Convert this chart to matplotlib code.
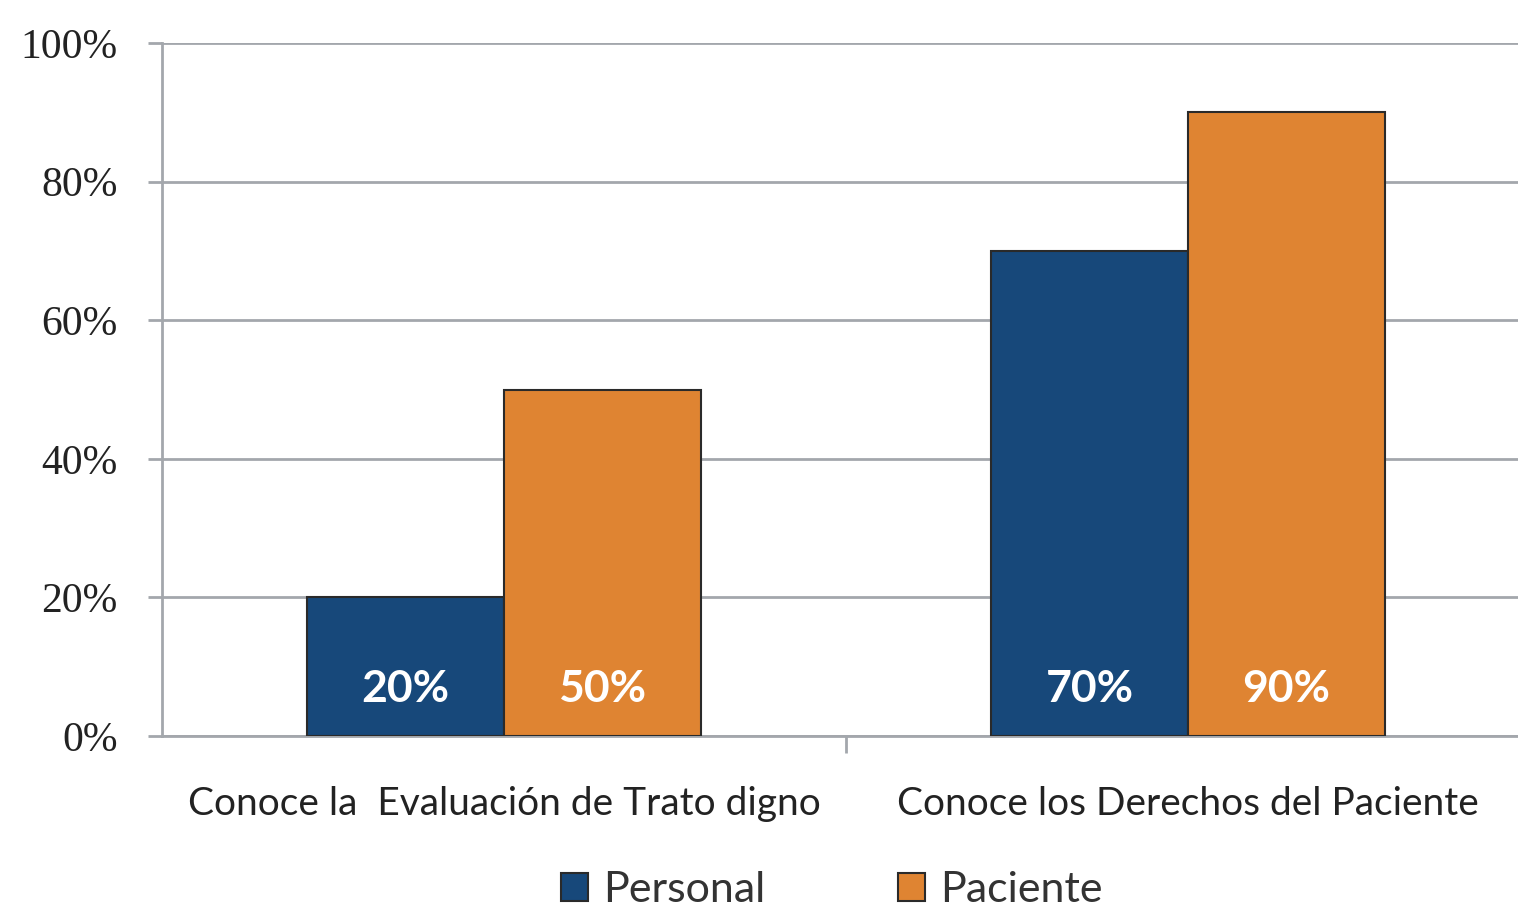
import numpy as np
import matplotlib.pyplot as plt

categories = ["Conoce la  Evaluación de Trato digno", "Conoce los Derechos del Paciente"]
personal = [20, 70]
paciente = [50, 90]
series_names = ["Personal", "Paciente"]
yticks = [0, 20, 40, 60, 80, 100]

NAVY = "#17487A"
ORANGE = "#DF8432"
GRID = "#A3A7AC"

fig = plt.figure(figsize=(15.18, 9.09), dpi=100)
ax = fig.add_axes([162 / 1518, 173 / 909, 1368 / 1518, 693 / 909])

x = np.array([0.5, 1.5])
w = 0.288
b1 = ax.bar(x - w / 2, personal, w, color=NAVY, edgecolor="#2a2a2a", linewidth=1.5,
            label=series_names[0], zorder=3)
b2 = ax.bar(x + w / 2, paciente, w, color=ORANGE, edgecolor="#2a2a2a", linewidth=1.5,
            label=series_names[1], zorder=3)

for bars, vals in ((b1, personal), (b2, paciente)):
    for r, v in zip(bars, vals):
        ax.text(r.get_x() + r.get_width() / 2, 6.8, f"{v}%", ha="center", va="center",
                color="white", fontsize=32, fontweight="bold", family="Lato", zorder=4)

ax.set_xlim(0, 2)
ax.set_ylim(0, 100)
ax.set_yticks(yticks)
ax.set_yticklabels([f"{t}%" for t in yticks], family="Liberation Serif", fontsize=30,
                   color="#222222")
ax.yaxis.grid(True, color=GRID, linewidth=2, zorder=0)
ax.tick_params(axis="y", length=10, width=2, color=GRID, pad=22)

ax.set_xticks([1])
ax.set_xticklabels([""])
ax.tick_params(axis="x", length=12, width=2, color=GRID)
for i, c in enumerate(categories):
    ax.text(x[i], -7.2, c, ha="center", va="top", fontsize=28, family="Lato", color="#222222",
            transform=ax.transData, clip_on=False)

for s in ("top", "right"):
    ax.spines[s].set_visible(False)
for s in ("left", "bottom"):
    ax.spines[s].set_color(GRID)
    ax.spines[s].set_linewidth(2)

leg = fig.legend(handles=[b1, b2], labels=series_names, loc="lower center",
                 bbox_to_anchor=(0.548, -0.043), ncol=2, frameon=False,
                 prop={"family": "Lato", "size": 31}, columnspacing=3.1,
                 handlelength=0.62, handleheight=0.62, handletextpad=0.35,
                 labelcolor="#333333")

fig.savefig("out.png", dpi=100)
